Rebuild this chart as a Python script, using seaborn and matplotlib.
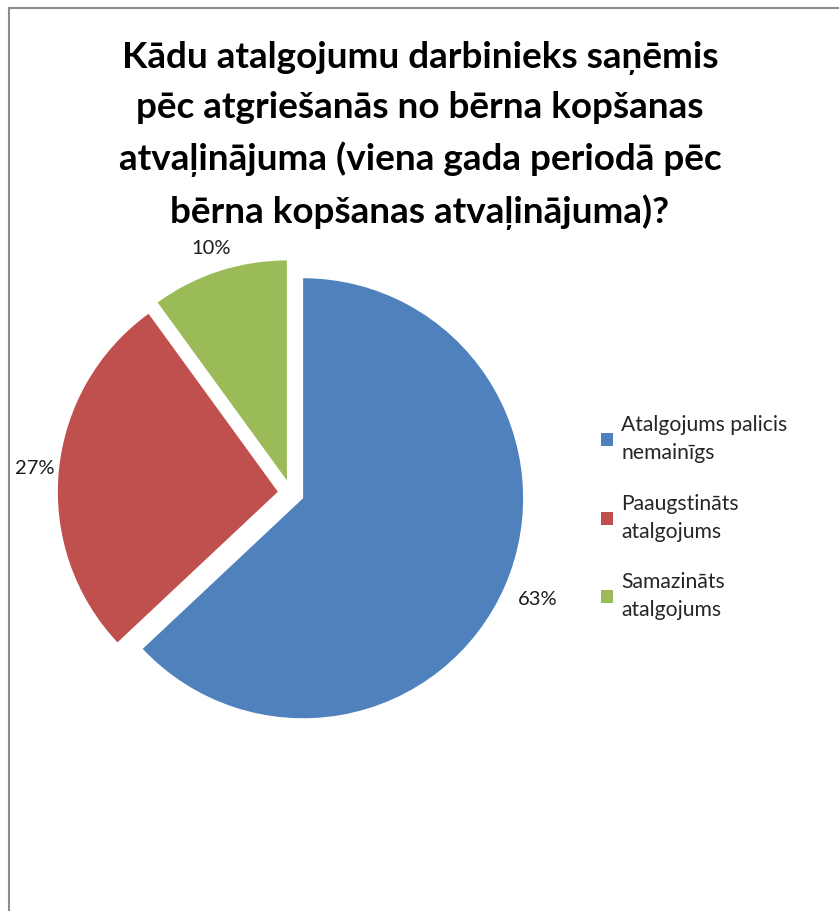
import matplotlib
matplotlib.use("Agg")
import numpy as np
import matplotlib.pyplot as plt
import seaborn as sns
from matplotlib.patches import Rectangle, Patch

categories = ["Atalgojums palicis\nnemainīgs", "Paaugstināts\natalgojums", "Samazināts\natalgojums"]
values = [63, 27, 10]
colors = ["#4F81BD", "#C0504D", "#9BBB59"]
title = ("Kādu atalgojumu darbinieks saņēmis\npēc atgriešanās no bērna kopšanas\n"
         "atvaļinājuma (viena gada periodā pēc\nbērna kopšanas atvaļinājuma)?")

sns.set_theme(style="white")
plt.rcParams["font.family"] = ["Lato", "DejaVu Sans"]

W, H = 839, 911
fig = plt.figure(figsize=(W / 100, H / 100), dpi=100)
fig.patch.set_facecolor("white")

# chart border (goes off the right and bottom)
fig.patches.append(Rectangle((9 / W, -0.1), 1.2, 1 - 8 / H + 0.1, transform=fig.transFigure,
                             fill=False, edgecolor="#8c8c8c", linewidth=1.5))

fig.text(420 / W, 1 - 41 / H, title, ha="center", va="top", fontsize=26.6,
         fontweight="bold", linespacing=1.6, color="black")

# pie: centre (291, 493) px, radius 220 px
r = 220
half = 260
ax = fig.add_axes([(291 - half) / W, (H - 493 - half) / H, 2 * half / W, 2 * half / H])
pal = sns.color_palette(colors)
wedges, texts, autotexts = ax.pie(values, colors=pal, startangle=90, counterclock=False,
                                  explode=[0.06] * 3, autopct="%d%%", pctdistance=1.12,
                                  wedgeprops=dict(linewidth=0),
                                  textprops=dict(fontsize=14.5, color="#1a1a1a"))
# Excel puts the labels just outside, a bit further for the big slice
for w, t, dist in zip(wedges, autotexts, [1.16, 1.11, 1.11]):
    ang = np.deg2rad((w.theta1 + w.theta2) / 2)
    cx, cy = w.center
    t.set_position((cx + dist * w.r * np.cos(ang), cy + dist * w.r * np.sin(ang)))

ax.set_xlim(-half / r, half / r)
ax.set_ylim(-half / r, half / r)
ax.set_aspect("equal")
ax.axis("off")

handles = [Patch(facecolor=c, edgecolor="none") for c in pal]
leg = fig.legend(handles, categories, loc="upper left", bbox_to_anchor=(582 / W, 1 - 396 / H),
                 frameon=False, fontsize=15.2, handlelength=0.55, handleheight=0.55,
                 handletextpad=0.4, labelspacing=1.45)
for t in leg.get_texts():
    t.set_linespacing(1.5)

fig.savefig("out.png", dpi=100, facecolor="white")
